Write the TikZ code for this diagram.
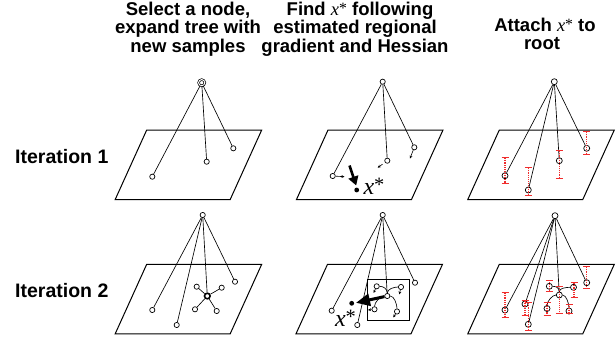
\documentclass[tikz,border=0pt]{standalone}
\usepackage{fontspec}
\setmainfont{Liberation Sans}
\newfontfamily\xfont{Liberation Serif}
\usetikzlibrary{arrows.meta}
\definecolor{errred}{RGB}{240,45,45}
\newcommand\xstar{{\xfont\mdseries\itshape x}{\xfont\mdseries\raisebox{0.12em}{\scalebox{0.85}{*}}}}
\newcommand\myplane[2]{\draw[plane] (#1,#2) -- ++(115,0) -- ++(-31.5,69.5) -- ++(-115,0) -- cycle;}
\newcommand\errbar[3]{\draw[ebar] (#1,#2) -- (#1,#3); \draw[ecap] (#1-3.5,#2) -- (#1+3.5,#2); \draw[ecap] (#1-3.5,#3) -- (#1+3.5,#3);}
\begin{document}
\begin{tikzpicture}[x=1pt,y=-1pt,
  plane/.style={line width=1pt},
  pt/.style={circle,draw,fill=white,inner sep=0pt,minimum size=5.2pt,line width=0.7pt},
  ptc/.style={pt,minimum size=6pt},
  rootsel/.style={circle,draw,fill=white,inner sep=0pt,minimum size=6.2pt,line width=0.7pt,double,double distance=1pt},
  nodesel/.style={circle,draw,fill=white,inner sep=0pt,minimum size=5.6pt,line width=1.6pt},
  dotn/.style={circle,fill=black,inner sep=0pt,minimum size=4.8pt},
  tline/.style={line width=0.65pt},
  garrow/.style={line width=0.6pt,-{Stealth[length=3pt,width=2.8pt]}},
  bigarrow/.style={line width=2.6pt,-{Triangle[length=9pt,width=10pt]}},
  bigarrowb/.style={line width=3pt,-{Triangle[length=14pt,width=12pt]}},
  ttl/.style={font=\bfseries\fontsize{18.5}{18.5}\selectfont,anchor=base,inner sep=0pt},
  itl/.style={font=\bfseries\fontsize{19.5}{19.5}\selectfont,anchor=base west,inner sep=0pt},
  xs/.style={font=\fontsize{24}{24}\selectfont,inner sep=0pt},
  ebar/.style={draw=errred,dash pattern=on 1pt off 0.9pt,line width=1.3pt},
  ecap/.style={draw=errred,line width=1pt},
]
\fill[white] (0,0) rectangle (616,337);
\useasboundingbox (0,0) rectangle (616,337);

% titles
\node[ttl] (t1a) at (188,15.5) {Select a node,};
\node[ttl] (t1b) at (188,34) {expand tree with};
\node[ttl] (t1c) at (188,52.5) {new samples};
\node[ttl] (t2a) at (360,15.5) {Find \xstar{} following};
\node[ttl] (t2b) at (355,34) {estimated regional};
\node[ttl] (t2c) at (355,52.5) {gradient and Hessian};
\node[ttl] (t3a) at (545,32) {Attach \xstar{} to};
\node[ttl] (t3b) at (542,50) {root};
\node[itl] (it1) at (15,163) {Iteration 1};
\node[itl] (it2) at (15,297) {Iteration 2};

% planes
\myplane{146.7}{130}
\myplane{328}{130}
\myplane{499.3}{130}
\myplane{146.7}{264.3}
\myplane{327.5}{264.3}
\myplane{499.3}{264.3}

% ---- Row 1, col 1
\node[rootsel] (a0) at (201.7,82.7) {};
\node[pt] (a1) at (233.3,148.3) {};
\node[pt] (a2) at (206.7,161.7) {};
\node[pt] (a3) at (152.3,176.7) {};
\foreach \k in {a1,a2,a3} \draw[tline] (a0) -- (\k);

% ---- Row 1, col 2
\node[pt] (b0) at (382.7,81.7) {};
\node[pt] (b1) at (414.3,147.3) {};
\node[pt] (b2) at (387.3,160.7) {};
\node[pt] (b3) at (332.7,176) {};
\foreach \k in {b1,b2,b3} \draw[tline] (b0) -- (\k);
\coordinate (b1e) at (410,158.5);
\coordinate (b2e) at (377.7,167.7);
\coordinate (b3e) at (344.5,176.7);
\draw[garrow] (b1) -- (b1e);
\draw[garrow,shorten <=3pt] (b2) -- (b2e);
\draw[garrow] (b3) -- (b3e);
\node[dotn] (bx) at (356.7,190) {};
\coordinate (bs) at (349.5,165.5);
\coordinate (bt) at (356.2,185.5);
\draw[bigarrow] (bs) -- (bt);
\node[xs] (bl) at (374,186) {\xstar};

% ---- Row 1, col 3
\node[ptc] (c0) at (554.3,81.7) {};
\node[ptc] (c1) at (586.7,148.3) {};
\node[ptc] (c2) at (559.3,160.7) {};
\node[ptc] (c3) at (505,175.7) {};
\node[ptc] (c4) at (528.3,190) {};
\foreach \k in {c1,c2,c3,c4} \draw[tline] (c0) -- (\k);
\errbar{586.7}{131.7}{154}
\errbar{559.3}{150.7}{178.3}
\errbar{505}{157.7}{183.3}
\errbar{528.3}{167.7}{195.3}

% ---- Row 2, col 1
\node[pt] (d0) at (202.7,215) {};
\node[pt] (d1) at (235,281.7) {};
\node[nodesel] (d2) at (207.3,296) {};
\node[pt] (d3) at (152.3,310) {};
\node[pt] (d4) at (176.7,325) {};
\node[pt] (d5) at (196.7,286.7) {};
\node[pt] (d6) at (221.7,287.7) {};
\node[pt] (d7) at (195,309.3) {};
\node[pt] (d8) at (216.7,311) {};
\foreach \k in {d1,d2,d3,d4} \draw[tline] (d0) -- (\k);
\foreach \k in {d5,d6,d7,d8} \draw[tline] (d2) -- (\k);

% ---- Row 2, col 2
\draw[line width=0.8pt] (367.3,279.3) rectangle (409,320);
\node[pt] (e0) at (382.7,215) {};
\node[pt] (e1) at (415,282.7) {};
\node[pt] (e2) at (387.3,296) {};
\node[pt] (e3) at (331.7,310.7) {};
\node[pt] (e4) at (357.3,325) {};
\node[pt] (e5) at (376.7,286.3) {};
\node[pt] (e6) at (401,287) {};
\node[pt] (e7) at (374.5,309.3) {};
\node[pt] (e8) at (397,311.5) {};
\foreach \k in {e1,e2,e3,e4} \draw[tline] (e0) -- (\k);
\draw[tline] (e2) .. controls +(0,-7) and +(7,0) .. (e5);
\draw[tline] (e2) .. controls +(0,-7) and +(-7,0) .. (e6);
\draw[tline] (e2) .. controls +(-7,0) and +(0,-7) .. (e7);
\draw[tline] (e2) .. controls +(7,0) and +(0,-7) .. (e8);
\coordinate (e5e) at (373.5,293);
\coordinate (e6e) at (399.3,294.5);
\coordinate (e7e) at (368,310);
\coordinate (e8e) at (393.3,317.5);
\draw[garrow] (e5) -- (e5e);
\draw[garrow] (e6) -- (e6e);
\draw[garrow] (e7) -- (e7e);
\draw[garrow] (e8) -- (e8e);
\node[dotn] (ex) at (351.7,303.3) {};
\coordinate (et) at (356,302.8);
\draw[bigarrowb] (e2) -- (et);
\node[xs] (el) at (345.5,318.5) {\xstar};

% ---- Row 2, col 3
\node[ptc] (f0) at (555,215.7) {};
\node[ptc] (f1) at (586.7,282.7) {};
\node[ptc] (f2) at (559.3,295) {};
\node[ptc] (f3) at (505,310) {};
\node[ptc] (f4) at (525,304) {};
\node[ptc] (f5) at (528.3,324.3) {};
\node[ptc] (f6) at (549.3,286.3) {};
\node[ptc] (f7) at (573.5,287.3) {};
\node[ptc] (f8) at (547,308.5) {};
\node[ptc] (f9) at (569,311) {};
\foreach \k in {f1,f2,f3,f4,f5} \draw[tline] (f0) -- (\k);
\draw[tline] (f2) .. controls +(0,-7) and +(7,0) .. (f6);
\draw[tline] (f2) .. controls +(0,-7) and +(-7,0) .. (f7);
\draw[tline] (f2) .. controls +(-7,0) and +(0,-7) .. (f8);
\draw[tline] (f2) .. controls +(7,0) and +(0,-7) .. (f9);
\errbar{586.7}{266.7}{288}
\errbar{559.3}{286}{313.3}
\errbar{549.3}{280}{291}
\errbar{574}{282.7}{297.3}
\errbar{547}{302}{315}
\errbar{569}{304}{313.5}
\errbar{505}{292.7}{317.3}
\errbar{525}{300.7}{315}
\errbar{528.3}{302.7}{330}
\end{tikzpicture}
\end{document}
